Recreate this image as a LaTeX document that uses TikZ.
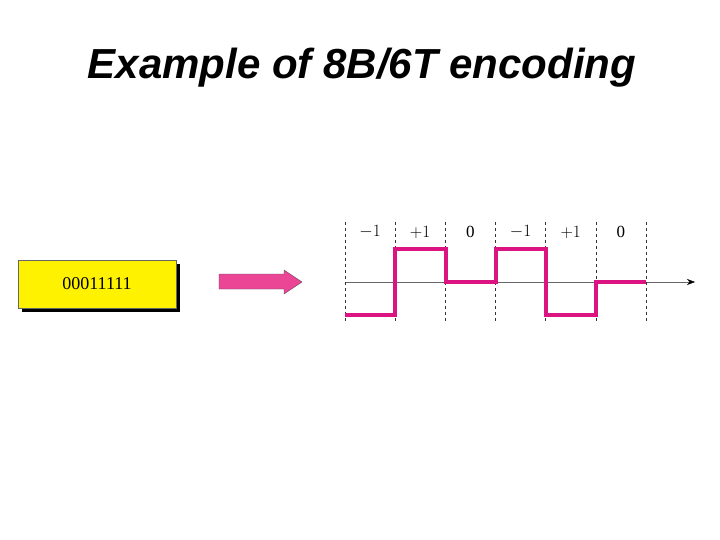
\documentclass[tikz,border=0pt]{standalone}
\usepackage{fontspec}
\setmainfont{Liberation Serif}
\newfontfamily\arial{Liberation Sans}
\usetikzlibrary{arrows.meta}
\definecolor{mag}{RGB}{220,20,130}
\definecolor{arr}{RGB}{235,70,150}
\tikzset{grid/.style={dashed,thin,black!80},sig/.style={mag,line width=3.5pt},lab/.style={font=\fontsize{17}{19}\selectfont}}
\begin{document}
\begin{tikzpicture}[x=1pt,y=-1pt]
\useasboundingbox (0,0) rectangle (720,540);
\node (title) at (362,68) {\arial\bfseries\itshape\fontsize{42}{48}\selectfont Example of 8B/6T encoding};
\fill[black] (22,264) rectangle (180,312);
\node[draw=black!60,fill=yellow,minimum width=158pt,minimum height=48pt,inner sep=0pt,font=\fontsize{18}{20}\selectfont] (box) at (97,284) {00011111};
\draw[black!70,fill=arr] (219,274) -- (284,274) -- (284,270) -- (302,282) -- (284,294) -- (284,289) -- (219,289) -- cycle;
\coordinate (a0) at (345,282);
\coordinate (a1) at (695,282);
\draw[black!60,-{Stealth[length=8pt,black]}] (a0) -- (a1);
\foreach \i in {0,...,6} {\draw[grid] ({345+50.17*\i},222) -- ({345+50.17*\i},322);}
\foreach \t [count=\i from 0] in {$-1$,$+1$,0,$-1$,$+1$,0} {\node[lab] at ({370+50.17*\i},232) {\t};}
\draw[sig,line join=miter] (345,315) -- (395,315) -- (395,249) -- (446,249) -- (446,282) -- (496,282) -- (496,249) -- (546,249) -- (546,315) -- (596,315) -- (596,282) -- (646,282);
\end{tikzpicture}
\end{document}
